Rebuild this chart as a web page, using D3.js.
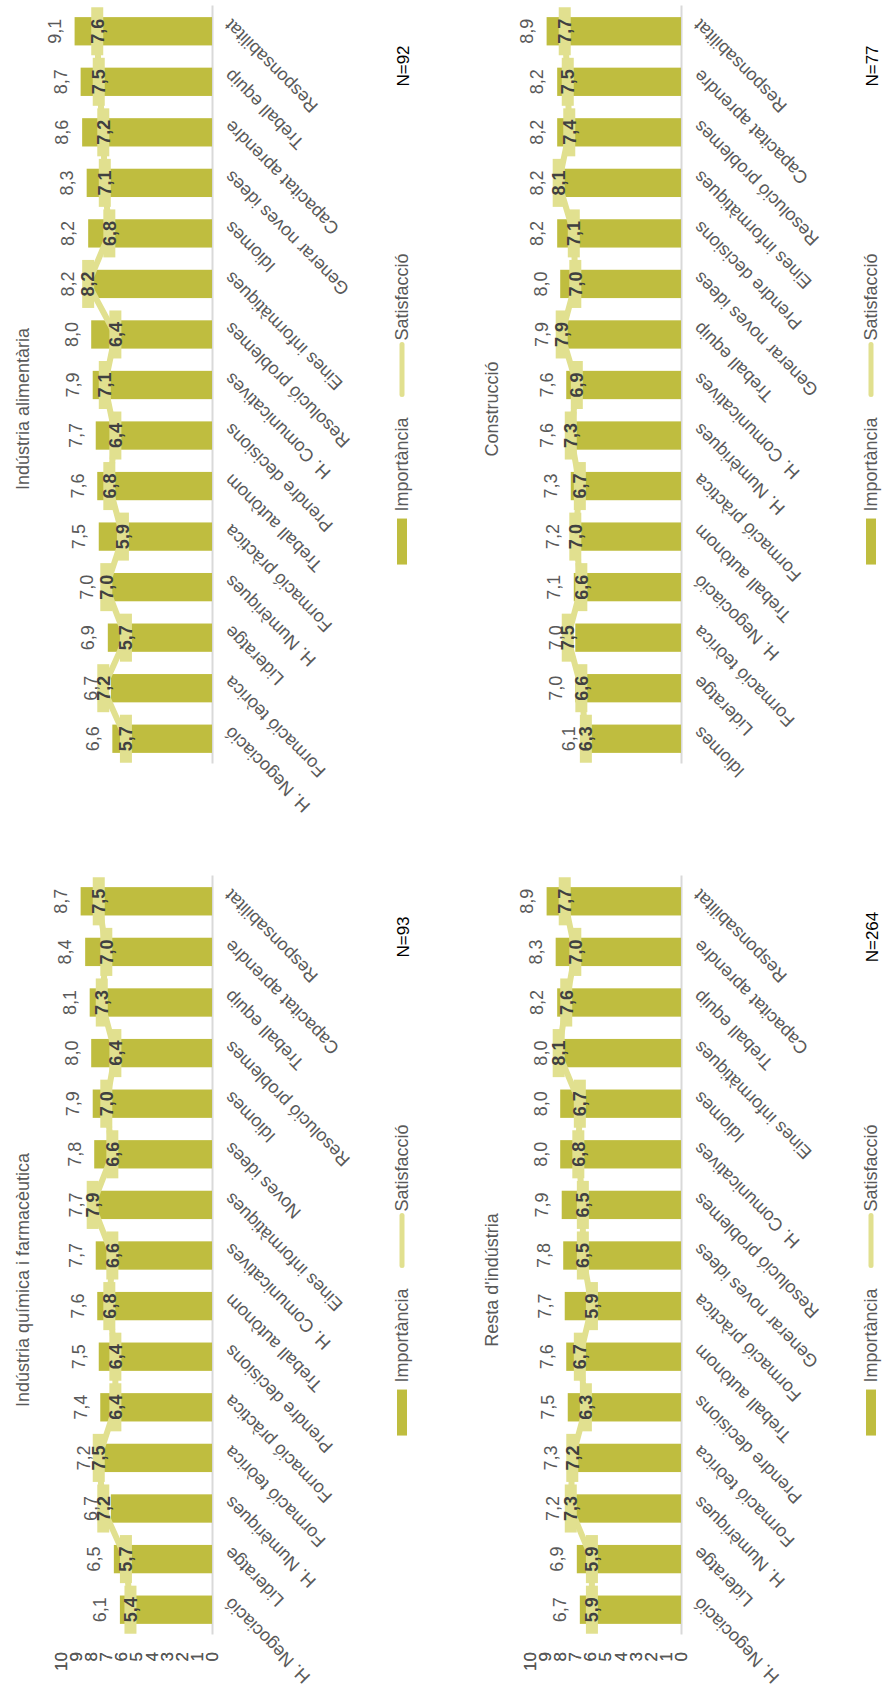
<!DOCTYPE html>
<html>
<head>
<meta charset="utf-8">
<script src="https://cdn.jsdelivr.net/npm/d3@7"></script>
<style>
  html, body { margin: 0; padding: 0; background: #ffffff; }
  svg { display: block; font-family: "Liberation Sans", Arial, sans-serif; }
</style>
</head>
<body>
<svg id="chart" width="883" height="1704"></svg>
<script>
// ---------------- DATA ----------------
const quimicaTitle = "Indústria química i farmacèutica";
const quimicaN = "N=93";
const quimicaCats = ["H. Negociació", "Lideratge", "H. Numèriques", "Formació teòrica", "Formació pràctica", "Prendre decisions", "Treball autònom", "H. Comunicatives", "Eines informàtiques", "Noves idees", "Idiomes", "Resolució problemes", "Treball equip", "Capacitat aprendre", "Responsabilitat"];
const quimicaImp = [6.1, 6.5, 6.7, 7.2, 7.4, 7.5, 7.6, 7.7, 7.7, 7.8, 7.9, 8.0, 8.1, 8.4, 8.7];
const quimicaSat = [5.4, 5.7, 7.2, 7.5, 6.4, 6.4, 6.8, 6.6, 7.9, 6.6, 7.0, 6.4, 7.3, 7.0, 7.5];

const alimTitle = "Indústria alimentària";
const alimN = "N=92";
const alimCats = ["H. Negociació", "Formació teòrica", "Lideratge", "H. Numèriques", "Formació pràctica", "Treball autònom", "Prendre decisions", "H. Comunicatives", "Resolució problemes", "Eines informàtiques", "Idiomes", "Generar noves idees", "Capacitat aprendre", "Treball equip", "Responsabilitat"];
const alimImp = [6.6, 6.7, 6.9, 7.0, 7.5, 7.6, 7.7, 7.9, 8.0, 8.2, 8.2, 8.3, 8.6, 8.7, 9.1];
const alimSat = [5.7, 7.2, 5.7, 7.0, 5.9, 6.8, 6.4, 7.1, 6.4, 8.2, 6.8, 7.1, 7.2, 7.5, 7.6];

const restaTitle = "Resta d'indústria";
const restaN = "N=264";
const restaCats = ["H. Negociació", "Lideratge", "H. Numèriques", "Formació teòrica", "Prendre decisions", "Treball autònom", "Formació pràctica", "Generar noves idees", "Resolució problemes", "H. Comunicatives", "Idiomes", "Eines informàtiques", "Treball equip", "Capacitat aprendre", "Responsabilitat"];
const restaImp = [6.7, 6.9, 7.2, 7.3, 7.5, 7.6, 7.7, 7.8, 7.9, 8.0, 8.0, 8.0, 8.2, 8.3, 8.9];
const restaSat = [5.9, 5.9, 7.3, 7.2, 6.3, 6.7, 5.9, 6.5, 6.5, 6.8, 6.7, 8.1, 7.6, 7.0, 7.7];

const construTitle = "Construcció";
const construN = "N=77";
const construCats = ["Idiomes", "Lideratge", "Formació teòrica", "H. Negociació", "Treball autònom", "Formació pràctica", "H. Numèriques", "H. Comunicatives", "Treball equip", "Generar noves idees", "Prendre decisions", "Eines informàtiques", "Resolució problemes", "Capacitat aprendre", "Responsabilitat"];
const construImp = [6.1, 7.0, 7.0, 7.1, 7.2, 7.3, 7.6, 7.6, 7.9, 8.0, 8.2, 8.2, 8.2, 8.2, 8.9];
const construSat = [6.3, 6.6, 7.5, 6.6, 7.0, 6.7, 7.3, 6.9, 7.9, 7.0, 7.1, 8.1, 7.4, 7.5, 7.7];

const seriesNames = ["Importància", "Satisfacció"];
const valueTicks = [0, 1, 2, 3, 4, 5, 6, 7, 8, 9, 10];

// ---------------- STYLE / LAYOUT ----------------
const barColor = "#bfbd3f";
const lineColor = "#e1e08f";
const textGray = "#595959";
const darkText = "#404040";
const axisGray = "#d9d9d9";

const panels = [
  { title: quimicaTitle, n: quimicaN, cats: quimicaCats, imp: quimicaImp, sat: quimicaSat, x0: 69,  x1: 828,  yOff: 0 },
  { title: alimTitle,    n: alimN,    cats: alimCats,    imp: alimImp,    sat: alimSat,    x0: 940, x1: 1698, yOff: 0 },
  { title: restaTitle,   n: restaN,   cats: restaCats,   imp: restaImp,   sat: restaSat,   x0: 69,  x1: 828,  yOff: 469 },
  { title: construTitle, n: construN, cats: construCats, imp: construImp, sat: construSat, x0: 940, x1: 1698, yOff: 469 }
];

const locale = d3.formatLocale({ decimal: ",", thousands: ".", grouping: [3], currency: ["", "€"] });
const fmt = locale.format(".1f");

const svg = d3.select("#chart");
// original chart is landscape 1704 x 883, shown rotated 90° counter-clockwise
const root = svg.append("g").attr("transform", "translate(0,1704) rotate(-90)");

panels.forEach(p => {
  const g = root.append("g").attr("transform", `translate(0,${p.yOff})`);

  const x = d3.scaleBand().domain(p.cats).range([p.x0, p.x1]).paddingInner(0.44).paddingOuter(0.22);
  const y = d3.scaleLinear().domain([0, 10]).range([212, 61]);
  const centerX = p.x0 + 355;

  // title
  g.append("text")
    .attr("x", centerX).attr("y", 22.5).attr("dy", "0.35em")
    .attr("text-anchor", "middle")
    .attr("font-size", 18).attr("fill", textGray)
    .text(p.title);

  // value axis (labels only)
  const yAxis = g.append("g").attr("transform", "translate(60,0)")
    .call(d3.axisLeft(y).tickValues(valueTicks).tickSize(0).tickPadding(8).tickFormat(d3.format("d")));
  yAxis.select(".domain").remove();
  yAxis.selectAll("text").attr("font-size", 17).attr("fill", textGray).attr("font-family", "Liberation Sans, Arial, sans-serif");

  // category axis
  const xAxis = g.append("g").attr("transform", "translate(0,212)")
    .call(d3.axisBottom(x).tickSize(0).tickSizeOuter(0).tickPadding(0));
  xAxis.select(".domain").attr("stroke", axisGray).attr("stroke-width", 2);
  xAxis.selectAll(".tick text")
    .attr("font-size", 18).attr("fill", textGray).attr("font-family", "Liberation Sans, Arial, sans-serif")
    .attr("text-anchor", "end")
    .attr("x", 0).attr("y", 0).attr("dy", "0.71em")
    .attr("transform", "translate(4,11) rotate(-45)");

  const data = p.cats.map((c, i) => ({ cat: c, imp: p.imp[i], sat: p.sat[i] }));

  // bars
  g.append("g").selectAll("rect").data(data).join("rect")
    .attr("x", d => x(d.cat)).attr("width", x.bandwidth())
    .attr("y", d => y(d.imp)).attr("height", d => y(0) - y(d.imp))
    .attr("fill", barColor);

  // satisfaction line
  const line = d3.line().x(d => x(d.cat) + x.bandwidth() / 2).y(d => y(d.sat));
  g.append("path").datum(data)
    .attr("d", line).attr("fill", "none")
    .attr("stroke", lineColor).attr("stroke-width", 6).attr("stroke-linejoin", "round");

  // dash markers
  const mw = x.step() * 0.95, mh = 12;
  g.append("g").selectAll("rect").data(data).join("rect")
    .attr("x", d => x(d.cat) + x.bandwidth() / 2 - mw / 2).attr("width", mw)
    .attr("y", d => y(d.sat) - mh / 2).attr("height", mh)
    .attr("fill", lineColor);

  // importance labels
  g.append("g").selectAll("text").data(data).join("text")
    .attr("x", d => x(d.cat) + x.bandwidth() / 2).attr("y", d => y(d.imp) - 20)
    .attr("dy", "0.35em").attr("text-anchor", "middle")
    .attr("font-size", 18).attr("fill", textGray)
    .text(d => fmt(d.imp));

  // satisfaction labels
  g.append("g").selectAll("text").data(data).join("text")
    .attr("x", d => x(d.cat) + x.bandwidth() / 2).attr("y", d => y(d.sat))
    .attr("dy", "0.35em").attr("text-anchor", "middle")
    .attr("font-size", 18).attr("font-weight", "bold").attr("fill", darkText)
    .text(d => fmt(d.sat));

  // legend
  const lg = g.append("g");
  const ly = 402;
  let cx = 0;
  lg.append("rect").attr("x", 0).attr("y", ly - 5).attr("width", 46).attr("height", 10).attr("fill", barColor);
  cx = 46 + 7;
  const t1 = lg.append("text").attr("x", cx).attr("y", ly).attr("dy", "0.35em")
    .attr("font-size", 18).attr("fill", textGray).text(seriesNames[0]);
  cx += t1.node().getComputedTextLength() + 23;
  lg.append("line").attr("x1", cx).attr("x2", cx + 50).attr("y1", ly).attr("y2", ly)
    .attr("stroke", lineColor).attr("stroke-width", 5).attr("stroke-linecap", "round");
  cx += 54;
  const t2 = lg.append("text").attr("x", cx).attr("y", ly).attr("dy", "0.35em")
    .attr("font-size", 18).attr("fill", textGray).text(seriesNames[1]);
  cx += t2.node().getComputedTextLength();
  lg.attr("transform", `translate(${centerX - cx / 2},0)`);

  // N label
  g.append("text")
    .attr("x", p.x0 + 698).attr("y", 403).attr("dy", "0.35em")
    .attr("text-anchor", "middle")
    .attr("font-size", 17).attr("fill", "#000000")
    .text(p.n);
});
</script>
</body>
</html>
